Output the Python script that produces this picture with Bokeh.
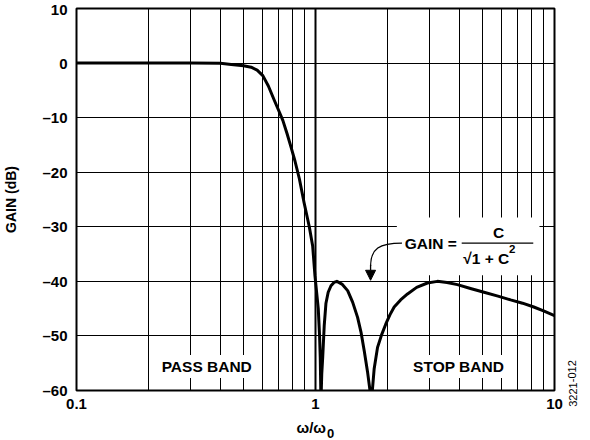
from bokeh.plotting import figure
from bokeh.layouts import row, column
from bokeh.models import (FixedTicker, CustomJSTickFormatter, Label, Span, Arrow,
                          NormalHead, Range1d)
from bokeh.embed import file_html
from bokeh.resources import INLINE

# ---- data ----
FREQ = [0.10, 0.20, 0.30, 0.40, 0.444, 0.50, 0.538, 0.57, 0.602, 0.635, 0.673,
        0.70, 0.730, 0.760, 0.790, 0.820, 0.856, 0.895, 0.942, 0.973, 0.995,
        1.027, 1.040, 1.047, 1.054, 1.062, 1.072, 1.088, 1.106, 1.130, 1.161,
        1.195, 1.229, 1.29, 1.363, 1.43, 1.500, 1.55, 1.599, 1.65, 1.714,
        1.76, 1.818, 1.89, 1.969, 2.05, 2.134, 2.27, 2.427, 2.65, 2.939,
        3.235, 3.55, 3.925, 4.45, 5.07, 5.80, 6.55, 7.35, 8.19, 9.00, 10.0]
GAIN_DB = [0.0, 0.0, 0.0, -0.05, -0.26, -0.5, -0.75, -1.3, -2.3, -4.2, -6.85,
           -8.6, -10.5, -12.9, -15.4, -17.9, -21.2, -25.5, -30.0, -33.5, -39.0,
           -45.0, -50.0, -54.0, -62.0, -57.0, -53.9, -48.0, -44.0, -42.0, -40.8,
           -40.2, -40.0, -40.5, -41.7, -43.8, -46.6, -49.3, -52.7, -56.5, -62.0,
           -56.0, -52.1, -49.8, -47.8, -46.1, -44.7, -43.4, -42.3, -41.1, -40.3,
           -40.0, -40.2, -40.6, -41.3, -42.0, -42.7, -43.4, -44.0, -44.7, -45.4, -46.3]

X_TICKS = [0.1, 1, 10]
X_MINOR = [0.2, 0.3, 0.4, 0.5, 0.6, 0.7, 0.8, 0.9, 2, 3, 4, 5, 6, 7, 8, 9]
Y_TICKS = [-60, -50, -40, -30, -20, -10, 0, 10]

X_LABEL = "ω/ω"
X_LABEL_SUB = "0"
Y_LABEL = "GAIN (dB)"
PASS_TEXT = "PASS BAND"
STOP_TEXT = "STOP BAND"
FIG_ID = "3221-012"

FONT = "Liberation Sans"

MAIN_W, MAIN_H = 564, 418
TOTAL_W, TOTAL_H = 590, 440

p = figure(width=MAIN_W, height=MAIN_H, x_axis_type="log",
           x_range=Range1d(0.1, 10), y_range=Range1d(-60, 10),
           output_backend="svg", toolbar_location=None,
           min_border_left=75, min_border_right=10,
           min_border_top=8, min_border_bottom=28)
p.background_fill_color = "white"
p.border_fill_color = "white"
p.outline_line_color = "black"
p.outline_line_width = 2

xt = FixedTicker(ticks=X_TICKS, minor_ticks=X_MINOR)
yt = FixedTicker(ticks=Y_TICKS)
p.xaxis.ticker = xt
p.yaxis.ticker = yt
p.xgrid.ticker = xt
p.ygrid.ticker = yt
p.xaxis.formatter = CustomJSTickFormatter(
    code="return tick < 1 ? tick.toFixed(1) : tick.toFixed(0);")
p.yaxis.formatter = CustomJSTickFormatter(
    code="return tick < 0 ? '\\u2013' + Math.abs(tick) : String(tick);")

for ax in (p.xaxis, p.yaxis):
    ax.axis_line_color = None
    ax.major_tick_in = 0
    ax.major_tick_out = 0
    ax.minor_tick_in = 0
    ax.minor_tick_out = 0
    ax.major_label_text_font = FONT
    ax.major_label_text_font_style = "bold"
    ax.major_label_text_font_size = "15px"
    ax.major_label_text_color = "black"
    ax.axis_label_text_font = FONT
    ax.axis_label_text_font_style = "bold"
    ax.axis_label_text_color = "black"

p.yaxis.major_label_standoff = 9
p.xaxis.major_label_standoff = 8
p.yaxis.axis_label = Y_LABEL
p.yaxis.axis_label_text_font_size = "14px"
p.yaxis.axis_label_standoff = 20

p.xgrid.grid_line_color = "black"
p.xgrid.grid_line_width = 1
p.xgrid.minor_grid_line_color = "black"
p.xgrid.minor_grid_line_width = 1
p.ygrid.grid_line_color = "black"
p.ygrid.grid_line_width = 1

p.add_layout(Span(location=1, dimension="height", line_color="black",
                  line_width=2, level="underlay"))

# white panel behind the formula
p.quad(left=2.19, right=8.65, top=-28.3, bottom=-38.9,
       fill_color="white", line_color=None)

# response curve
p.line(FREQ, GAIN_DB, line_width=3, line_color="black", line_join="round")

# leader curve + arrow
p.bezier(x0=[2.30], y0=[-33.0], x1=[1.70], y1=[-37.2],
         cx0=[1.85], cy0=[-33.0], cx1=[1.70], cy1=[-34.0],
         line_color="black", line_width=1.3)
p.add_layout(Arrow(end=NormalHead(size=10, fill_color="black", line_color="black",
                                  line_width=1),
                   x_start=1.70, y_start=-37.0, x_end=1.70, y_end=-39.8,
                   line_color="black", line_width=1.3))

def lab(fig, x, y, text, size="15.5px", align="center", style="bold", **kw):
    l = Label(x=x, y=y, text=text, text_align=align, text_baseline="middle",
              text_font=FONT, text_font_style=style, text_font_size=size,
              text_color="black", **kw)
    fig.add_layout(l)
    return l

lab(p, 0.3507, -55.6, PASS_TEXT, background_fill_color="white", padding=3)
lab(p, 3.97, -55.6, STOP_TEXT, background_fill_color="white", padding=3)

lab(p, 2.36, -33.0, "GAIN =", align="left")
lab(p, 5.84, -31.0, "C")
p.line([4.09, 8.15], [-33.0, -33.0], line_color="black", line_width=1.3)
lab(p, 4.15, -35.9, "√1 + C", align="left")
lab(p, 6.45, -34.1, "2", size="11.5px", align="left")


def text_panel(w, h):
    f = figure(width=w, height=h, x_range=Range1d(0, w), y_range=Range1d(0, h),
               x_axis_location=None, y_axis_location=None,
               output_backend="svg", toolbar_location=None,
               min_border=0, min_border_left=0, min_border_right=0,
               min_border_top=0, min_border_bottom=0)
    f.outline_line_color = None
    f.background_fill_color = "white"
    f.border_fill_color = "white"
    f.xgrid.visible = False
    f.ygrid.visible = False
    return f

# x-axis title strip under the plot (canvas pixels inside the strip)
bottom = text_panel(MAIN_W, TOTAL_H - MAIN_H)
lab(bottom, 296, 9, X_LABEL, size="15px", align="left",
    x_units="canvas", y_units="canvas")
lab(bottom, 326.5, 14.5, X_LABEL_SUB, size="13px", align="left",
    x_units="canvas", y_units="canvas")

# figure id strip on the right
side = text_panel(TOTAL_W - MAIN_W, TOTAL_H)
lab(side, 8, TOTAL_H - 383, FIG_ID, size="11px", style="normal", angle=1.5708)

layout = row(column(p, bottom), side)
open("out.html", "w").write(file_html(layout, INLINE))
